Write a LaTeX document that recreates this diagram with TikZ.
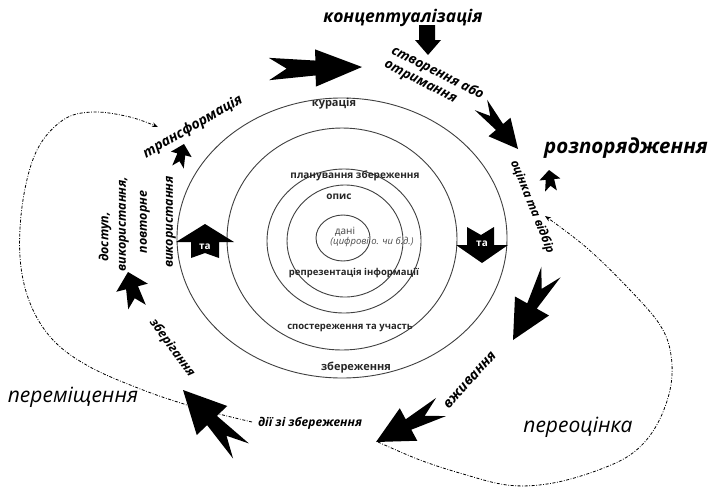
\documentclass[tikz,border=0pt]{standalone}
\usepackage{fontspec}
\setmainfont{Open Sans}
\usetikzlibrary{calc,arrows.meta}

% barbed arrow with forked tail:
% #1 tail, #2 tip, #3 wing half-width, #4 shaft half-width at head, #5 tail spike half-width, #6 notch depth, #7 wing position
\newcommand\dart[7]{%
\fill let \p1=(#1), \p2=(#2), \n1={\x2-\x1}, \n2={\y2-\y1} in
 (\p2)
 -- ({\x1+(#7*(\n1)-#3*(\n2))*1pt},{\y1+(#7*(\n2)+#3*(\n1))*1pt})
 -- ({\x1+(#7*(\n1)-#4*(\n2))*1pt},{\y1+(#7*(\n2)+#4*(\n1))*1pt})
 -- ({\x1-#5*(\n2)*1pt},{\y1+#5*(\n1)*1pt})
 -- ({\x1+#6*(\n1)*1pt},{\y1+#6*(\n2)*1pt})
 -- ({\x1+#5*(\n2)*1pt},{\y1-#5*(\n1)*1pt})
 -- ({\x1+(#7*(\n1)+#4*(\n2))*1pt},{\y1+(#7*(\n2)-#4*(\n1))*1pt})
 -- ({\x1+(#7*(\n1)+#3*(\n2))*1pt},{\y1+(#7*(\n2)-#3*(\n1))*1pt}) -- cycle;}

\tikzset{
 ringlbl/.style={font=\bfseries\itshape\fontsize{#1}{#1}\selectfont, inner sep=0pt},
 inlbl/.style={font=\bfseries\fontsize{#1}{#1}\selectfont, text=black!85, inner sep=0pt},
 bigit/.style={font=\itshape\fontsize{#1}{#1}\selectfont, inner sep=0pt},
 circ/.style={draw=black!75, line width=0.9pt},
 dd/.style={line width=0.8pt, dash pattern=on 3pt off 1.6pt on 0.8pt off 1.6pt,
   -{Stealth[length=6pt,width=4.5pt]}},
 tatxt/.style={font=\bfseries\fontsize{10}{10}\selectfont, text=white, inner sep=0pt},
}

\begin{document}
\begin{tikzpicture}[x=1pt,y=-1pt]
\fill[white] (0,0) rectangle (711,493);
\useasboundingbox (0,0) rectangle (711,493);

% rings
\draw[circ] (342,238) ellipse [x radius=165pt, y radius=140pt];
\draw[circ] (342,239) ellipse [x radius=115pt, y radius=111pt];
\draw[circ] (344,241) ellipse [x radius=77pt, y radius=72pt];
\draw[circ] (345,241) ellipse [x radius=58pt, y radius=56pt];
\draw[circ] (343,238) ellipse [x radius=27pt, y radius=23pt];

% inner labels
\node[inlbl=11] (cur) at (334,104) {курація};
\node[inlbl=10] (plan) at (355,176) {планування збереження};
\node[inlbl=10] (desc) at (339,197) {опис};
\node[font=\fontsize{10}{10}\selectfont, text=black!75, inner sep=0pt] (data) at (345,232) {дані};
\node[bigit=9.5, text=black!70] (datadesc) at (372,242) {(цифрові о. чи б.д.)};
\node[inlbl=9.5] (repr) at (354,273) {репрезентація інформації};
\node[inlbl=9.5] (comm) at (350,328) {спостереження та участь};
\node[inlbl=11] (pres) at (356,368) {збереження};

% dashed loops
\coordinate (mstart) at (252,422);
\coordinate (mend) at (158,127);
\draw[dd] plot[smooth, tension=0.6] coordinates {(mstart) (215,413) (187,405) (143,390) (90,367) (53,340) (30,303) (20,257) (23,200) (37,150) (63,120) (93,112) (130,117) (mend)};
\coordinate (rstart) at (378,442);
\coordinate (rend) at (545,216);
\draw[dd] plot[smooth, tension=0.6] coordinates {(rstart) (420,460) (463,474) (507,485) (547,484) (590,473) (630,455) (655,428) (670,390) (671,355) (660,325) (630,290) (587,248) (rend)};

% big arrows
\dart{269,69}{362,67}{0.2}{0.08}{0.12}{0.19}{0.5}
\dart{481,105}{518,149}{0.25}{0.08}{0.14}{0.25}{0.5}
\dart{551,272}{513,340}{0.25}{0.07}{0.14}{0.25}{0.5}
\dart{441,407}{376,442}{0.25}{0.08}{0.14}{0.25}{0.5}
\dart{241,451}{183,390}{0.25}{0.08}{0.13}{0.25}{0.5}
\dart{137,307}{128,272}{0.45}{0.17}{0.25}{0.25}{0.55}
\dart{178,167}{184,144}{0.45}{0.17}{0.25}{0.25}{0.55}
\dart{551,191}{549,170}{0.5}{0.2}{0.28}{0.25}{0.55}

% conceptualise arrow
\fill (419,25) -- (435,25) -- (435,40) -- (441,40) -- (428,55) -- (415,40) -- (419,40) -- cycle;

% "та" arrows
\fill (205,224) -- (234,242) -- (219,242) -- (219,258) -- (205,253) -- (191,258) -- (191,242) -- (176,242) -- cycle;
\node[tatxt] (ta1) at (205,247) {та};
\fill (482,263) -- (508,245) -- (494,245) -- (494,227) -- (481,235) -- (467,227) -- (467,245) -- (456,245) -- cycle;
\node[tatxt] (ta2) at (482,244) {та};

% outer labels
\node[ringlbl=17.5] (concept) at (403,18) {концептуалізація};
\node[ringlbl=20.5] (dispose) at (626,148) {розпорядження};
\node[bigit=21] (migrate) at (73,397) {переміщення};
\node[bigit=21] (reapp) at (578,427) {переоцінка};
\node[ringlbl=12] (presact) at (310,423) {дії зі збереження};
\node[ringlbl=13.5, rotate=-27, align=left] (create) at (434,80) {створення або\\[2pt]отримання};
\node[ringlbl=12, rotate=-68] (appr) at (532,207) {оцінка та відбір};
\node[ringlbl=14, rotate=48] (ingest) at (470,380) {вживання};
\node[ringlbl=12.5, rotate=-54] (store) at (172,348) {зберігання};
\node[ringlbl=14, rotate=30] (transf) at (193,127) {трансформація};
\node[ringlbl=12.5, rotate=90] (acc1) at (105,237) {доступ,};
\node[ringlbl=12.5, rotate=90] (acc2) at (124,224) {використання,};
\node[ringlbl=12.5, rotate=90] (acc3) at (145,222) {повторне};
\node[ringlbl=12.5, rotate=90] (acc4) at (171,222) {використання};
\end{tikzpicture}
\end{document}
